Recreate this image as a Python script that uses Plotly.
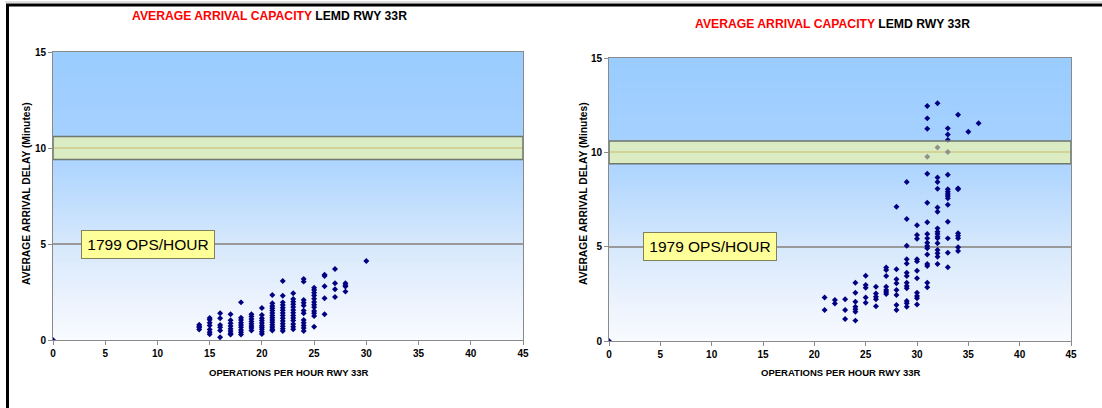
import plotly.graph_objects as go

# ---- data: average arrival delay (minutes) per hourly operations level ----
left_ops_levels = [0, 14, 15, 16, 17, 18, 19, 20, 21, 22, 23, 24, 25, 26, 27, 28, 30]
left_delays = [
    [0.0],
    [0.55, 0.65, 0.72, 0.80],
    [1.15, 1.05, 0.90, 0.75, 0.55, 0.40, 0.30],
    [1.39, 1.13, 0.78, 0.66, 0.49, 0.14],
    [1.34, 1.03, 0.87, 0.73, 0.59, 0.47, 0.35, 0.28],
    [1.96, 1.16, 1.04, 0.90, 0.78, 0.66, 0.52, 0.40, 0.29],
    [1.34, 1.22, 1.09, 0.97, 0.85, 0.73, 0.63, 0.50],
    [1.67, 1.30, 1.13, 1.01, 0.89, 0.76, 0.66, 0.56, 0.43, 0.31],
    [2.34, 1.91, 1.77, 1.65, 1.53, 1.41, 1.28, 1.16, 1.04, 0.92, 0.80, 0.68, 0.56, 0.49],
    [3.07, 2.31, 1.96, 1.82, 1.68, 1.55, 1.41, 1.27, 1.13, 0.99, 0.85, 0.71, 0.59, 0.47],
    [2.43, 2.13, 1.99, 1.86, 1.72, 1.56, 1.42, 1.28, 1.15, 1.01, 0.83, 0.69, 0.56],
    [3.18, 3.04, 2.08, 1.94, 1.80, 1.53, 1.39, 1.04, 0.90, 0.76, 0.63, 0.47],
    [2.72, 2.60, 2.46, 2.32, 2.15, 1.98, 1.84, 1.70, 1.51, 1.39, 1.25, 0.69],
    [3.40, 3.33, 2.80, 2.17, 1.34],
    [3.70, 2.95, 2.64, 2.24],
    [2.95, 2.85, 2.78, 2.52],
    [4.11],
]

right_ops_levels = [0, 21, 22, 23, 24, 25, 26, 27, 28, 29, 30, 31, 32, 33, 34, 35, 36]
right_delays = [
    [0.0],
    [2.31, 1.64],
    [2.17, 1.99],
    [2.21, 1.64, 1.17],
    [3.09, 2.56, 2.08, 1.82, 1.68, 1.55, 1.08],
    [3.46, 2.97, 2.82, 2.30, 2.03],
    [2.88, 2.52, 2.35, 2.21, 1.84],
    [3.89, 3.76, 3.44, 2.88, 2.70, 2.60, 2.49],
    [7.12, 3.80, 3.27, 3.06, 2.70, 2.44, 1.91, 1.64],
    [8.43, 6.47, 5.05, 4.33, 4.11, 3.62, 3.44, 3.09, 2.91, 2.79, 2.12, 2.00, 1.82],
    [6.13, 5.62, 5.42, 4.33, 4.22, 3.72, 3.32, 2.56, 2.38, 2.26, 1.94],
    [12.45, 11.80, 11.25, 9.77, 8.87, 7.33, 6.29, 5.67, 5.44, 5.21, 5.03, 4.91, 4.59, 4.08, 3.97, 3.09, 2.85],
    [12.60, 10.26, 8.66, 8.43, 8.07, 7.07, 6.85, 5.97, 5.79, 5.67, 5.53, 5.44, 5.18, 4.82, 4.65, 4.47, 4.08],
    [11.27, 10.95, 10.65, 10.02, 8.81, 8.04, 7.91, 7.79, 7.68, 7.56, 7.22, 6.32, 5.44, 4.68, 3.91],
    [11.99, 8.09, 8.04, 5.71, 5.58, 5.44, 4.97, 4.77],
    [11.09],
    [11.54],
]

capacity_labels = ["1799 OPS/HOUR", "1979 OPS/HOUR"]
chart_title_red = "AVERAGE ARRIVAL CAPACITY"
chart_title_black = "LEMD RWY 33R"
x_title = "OPERATIONS PER HOUR RWY 33R"
y_title = "AVERAGE ARRIVAL DELAY (Minutes)"
target_delay = 10          # acceptable delay reference line
target_band = (9.4, 10.6)  # tolerance band around it
x_ticks = list(range(0, 46, 5))
y_ticks = [0, 5, 10, 15]


def flatten(levels, delays):
    xs, ys = [], []
    for lv, ds in zip(levels, delays):
        for d in ds:
            xs.append(lv)
            ys.append(d)
    return xs, ys


W, H = 1102, 408
FONT = "Liberation Sans, Arial, sans-serif"

# plot-area pixel boxes (left, top, right, bottom)
boxes = [(53, 52, 523, 340), (609, 58, 1071, 341)]


def px_x(p):
    return p / W


def px_y(p):
    return 1 - p / H


fig = go.Figure()

# background gradient stops (delay value -> rgb)
grad_stops = [
    (0.0, (248, 251, 255)),
    (2.0, (236, 243, 253)),
    (5.0, (214, 232, 252)),
    (9.0, (176, 214, 255)),
    (10.5, (166, 209, 255)),
    (15.0, (153, 204, 255)),
]


def grad_color(v):
    for (a, ca), (b, cb) in zip(grad_stops[:-1], grad_stops[1:]):
        if a <= v <= b:
            t = (v - a) / (b - a)
            c = [round(ca[i] + (cb[i] - ca[i]) * t) for i in range(3)]
            return "rgb(%d,%d,%d)" % tuple(c)
    return "rgb(153,204,255)"


shapes = []
annotations = []
series = [(left_ops_levels, left_delays), (right_ops_levels, right_delays)]

for i, ((levels, delays), box) in enumerate(zip(series, boxes)):
    xa = "x" if i == 0 else "x2"
    ya = "y" if i == 0 else "y2"
    xs, ys = flatten(levels, delays)
    fig.add_trace(go.Scatter(
        x=xs, y=ys, mode="markers", xaxis=xa, yaxis=ya,
        marker=dict(symbol="diamond", size=4.6, color="#000080"),
        showlegend=False, hoverinfo="x+y",
    ))

    # gradient strips behind the grid
    step = 0.1
    n = int(round(15 / step))
    for k in range(n):
        y0 = k * step
        shapes.append(dict(
            type="rect", xref=xa, yref=ya, x0=0, x1=45, y0=y0, y1=min(15, y0 + step + 0.06),
            fillcolor=grad_color(y0 + step / 2), line=dict(width=0), layer="below",
        ))

    # translucent tolerance band around the target delay
    shapes.append(dict(
        type="rect", xref=xa, yref=ya, x0=0, x1=45,
        y0=target_band[0], y1=target_band[1],
        fillcolor="rgba(255,255,150,0.57)",
        line=dict(color="#6E766E", width=1.5), layer="above",
    ))

    # capacity label sitting on the 5-minute grid line
    annotations.append(dict(
        xref=xa, yref=ya, x=9.1 if i == 0 else 9.8, y=5,
        text=capacity_labels[i], showarrow=False,
        font=dict(family=FONT, size=15.5, color="black"),
        bgcolor="#FFFF99", bordercolor="#80805A", borderwidth=1, borderpad=0,
        width=132, height=27, xanchor="center", yanchor="middle",
    ))

    l, t, r, b = box
    title_pos = [(269, 16), (832, 24)][i]
    annotations.append(dict(
        xref="paper", yref="paper", x=px_x(title_pos[0]), y=px_y(title_pos[1]),
        text="<span style='color:#FF0000'>%s</span> %s" % (chart_title_red, chart_title_black),
        showarrow=False, xanchor="center", yanchor="middle",
        font=dict(family=FONT, size=12.2, color="black", weight="bold"),
    ))
    annotations.append(dict(
        xref="paper", yref="paper", x=px_x([289, 841][i]), y=px_y(372),
        text=x_title, showarrow=False, xanchor="center", yanchor="middle",
        font=dict(family=FONT, size=9.5, color="black", weight="bold"),
    ))
    annotations.append(dict(
        xref="paper", yref="paper", x=px_x([26, 583][i]), y=px_y(194),
        text=y_title, showarrow=False, textangle=-90, xanchor="center", yanchor="middle",
        font=dict(family=FONT, size=10.3, color="black", weight="bold"),
    ))

    axis_common = dict(
        showline=True, linecolor="#8A8A8A", linewidth=1, mirror=True,
        ticks="outside", ticklen=4, tickcolor="#8A8A8A",
        tickfont=dict(family=FONT, size=10, color="black", weight="bold"),
        zeroline=False, automargin=False,
    )
    fig.update_layout(**{
        ("xaxis" if i == 0 else "xaxis2"): dict(
            axis_common, range=[0, 45], tickvals=x_ticks, showgrid=False,
            domain=[px_x(l), px_x(r)], anchor=ya,
        ),
        ("yaxis" if i == 0 else "yaxis2"): dict(
            axis_common, range=[0, 15], tickvals=y_ticks, showgrid=True,
            gridcolor="#9A9A9A", gridwidth=1.5,
            domain=[px_y(b), px_y(t)], anchor=xa,
        ),
    })

# outer frame (top and left edges)
shapes.append(dict(type="line", xref="paper", yref="paper",
                   x0=px_x(5), x1=1, y0=px_y(2), y1=px_y(2),
                   line=dict(color="#BDBDBD", width=1)))
shapes.append(dict(type="line", xref="paper", yref="paper",
                   x0=px_x(6), x1=1, y0=px_y(5), y1=px_y(5),
                   line=dict(color="black", width=3)))
shapes.append(dict(type="line", xref="paper", yref="paper",
                   x0=px_x(7.5), x1=px_x(7.5), y0=0, y1=px_y(5),
                   line=dict(color="black", width=3)))

fig.update_layout(
    width=W, height=H, margin=dict(l=0, r=0, t=0, b=0, autoexpand=False),
    paper_bgcolor="white", plot_bgcolor="white",
    shapes=shapes, annotations=annotations,
    font=dict(family=FONT),
)

fig.write_html("out.html")
